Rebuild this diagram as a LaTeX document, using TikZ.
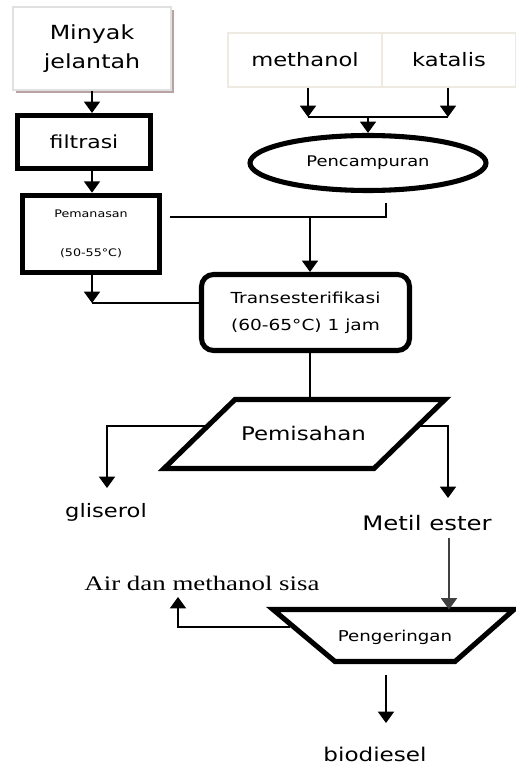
\documentclass[tikz,border=0pt]{standalone}
\usepackage{fontspec}
\newfontfamily\verd[FakeStretch=1.22]{DejaVu Sans}
\newfontfamily\tms[FakeStretch=1.3]{Liberation Serif}
\usepackage{tikz}
\usetikzlibrary{arrows.meta,shapes.geometric,shadows}
\definecolor{shadowbrown}{HTML}{B8A2A2}
\definecolor{faintline}{HTML}{EEEAE2}
\newcommand\pxu{0.75pt}

\begin{document}
\begin{tikzpicture}[
  x=0.75pt, y=-0.75pt,
  >={Triangle[width=12pt,length=8.5pt]},
  flow/.style={line width=1.2pt},
  heavy/.style={draw,line width=3.8pt,align=center,inner sep=2pt},
  srcbox/.style={draw=faintline,line width=0.8pt,fill=white,align=center,inner sep=0pt},
  tag/.style={inner sep=0pt}
]
\useasboundingbox (0,0) rectangle (516,766);
% inputs
\node[srcbox,draw=black!12,minimum width=158*\pxu,minimum height=83*\pxu,
  drop shadow={shadow xshift=2.2pt,shadow yshift=-2.2pt,fill=shadowbrown,opacity=1},
  font=\verd\fontsize{14.6}{21.75}\selectfont] (minyak) at (92,48.5) {Minyak\\jelantah};
\node[srcbox,minimum width=154*\pxu,minimum height=54*\pxu,font=\verd\fontsize{13.9}{16}\selectfont] (methanol) at (305,60) {methanol};
\node[srcbox,minimum width=134*\pxu,minimum height=54*\pxu,font=\verd\fontsize{13.9}{16}\selectfont] (katalis) at (449,60) {katalis};
% process steps
\node[heavy,minimum width=133*\pxu,minimum height=53*\pxu,font=\verd\fontsize{13.5}{16}\selectfont] (filtrasi) at (84,142) {filtrasi};
\node[heavy,line width=4.2pt,minimum width=137*\pxu,minimum height=77*\pxu,font=\verd\fontsize{7.8}{29.25}\selectfont] (pemanasan) at (91,234) {Pemanasan\\(50-55°C)};
\node[heavy,ellipse,minimum width=236*\pxu,minimum height=55*\pxu,font=\verd\fontsize{11}{13}\selectfont] (pencampuran) at (368,163) {Pencampuran};
\node[heavy,rounded corners=9pt,minimum width=208*\pxu,minimum height=76*\pxu,font=\verd\fontsize{11.4}{20.25}\selectfont] (trans) at (305.5,312.5) {Transesterifikasi\\(60-65°C) 1 jam};
% separation (parallelogram) and drying (inverted trapezium)
\draw[heavy,line join=miter] (235,399.5) coordinate (sepTL) -- (445,399.5) -- (374,468.5) -- (164,468.5) -- cycle;
\node[tag,font=\verd\fontsize{14.1}{16}\selectfont] (pemisahan) at (303.5,433) {Pemisahan};
\draw[heavy,line join=miter] (273,609.5) coordinate (dryTL) -- (514,609.5) -- (455,661.5) -- (335,661.5) coordinate (dryBL) -- cycle;
\node[tag,font=\verd\fontsize{11.2}{13}\selectfont] (pengeringan) at (395,637) {Pengeringan};
% products
\node[tag,font=\verd\fontsize{13.9}{16}\selectfont] (gliserol) at (106,512) {gliserol};
\node[tag,font=\verd\fontsize{15}{17}\selectfont] (metil) at (427,523) {Metil ester};
\node[tag,font=\tms\fontsize{15.5}{18}\selectfont] (air) at (202,583) {Air dan methanol sisa};
\node[tag,font=\verd\fontsize{14.2}{16}\selectfont] (biodiesel) at (375,754) {biodiesel};
% joints
\coordinate (heatJoin) at (92,303);
\coordinate (mixL) at (308,117);
\coordinate (mixR) at (448,117);
\coordinate (mixOut) at (386,203);
\coordinate (feed) at (310,217);
\coordinate (sepW) at (205,426);
\coordinate (sepE) at (418,426);
\coordinate (glyTip) at (107,488);
\coordinate (estTip) at (448,498);
\coordinate (estOut) at (449,538);
\coordinate (dryW) at (290,627);
\coordinate (airTip) at (178,597);
\coordinate (bioOut) at (386,675);
\coordinate (bioTip) at (386,723);
% connectors
\draw[flow,->] (minyak.south) -- (minyak.south |- filtrasi.north);
\draw[flow,->] (minyak.south |- filtrasi.south) -- (minyak.south |- pemanasan.north);
\draw[flow,->] (minyak.south |- pemanasan.south) -- (heatJoin);
\draw[flow] (heatJoin) -- (heatJoin -| trans.west);
\draw[flow,->] (mixL |- methanol.south) -- (mixL);
\draw[flow,->] (mixR |- katalis.south) -- (mixR);
\draw[flow] (mixL) -- (mixR);
\draw[flow,->] (pencampuran.north |- mixL) -- (pencampuran.north);
\draw[flow] (mixOut) |- ([xshift=6pt]pemanasan.east |- feed);
\draw[flow,->] (feed) -- (feed |- trans.north);
\draw[flow] (feed |- trans.south) -- (feed |- sepTL);
\draw[flow,->] (sepW) -| (glyTip);
\draw[flow,->] (sepE) -| (estTip);
\draw[flow,->,black!75] (estOut) -- (estOut |- dryTL);
\draw[flow,->] (dryW) -| (airTip);
\draw[flow,->] (bioOut) -- (bioTip);
\end{tikzpicture}
\end{document}
